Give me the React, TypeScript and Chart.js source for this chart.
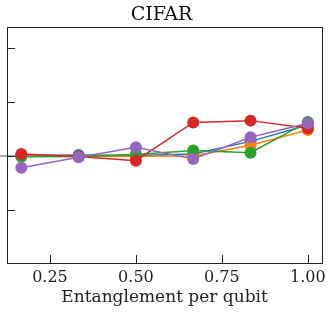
import React, { useEffect, useRef } from "react";
import { Chart, registerables } from "chart.js";

Chart.register(...registerables);

const xValues = [1 / 6, 2 / 6, 3 / 6, 4 / 6, 5 / 6, 1];
const seriesNames = ["s1", "s2", "s3", "s4", "s5"];
const seriesColors = ["#1f77b4", "#ff7f0e", "#2ca02c", "#d62728", "#9467bd"];
const blueValues = [0.01, 0.019, 0.01, 0.037, 0.27, 0.574];
const orangeValues = [0.0, -0.01, -0.005, 0.0, 0.2, 0.48];
const greenValues = [-0.013, -0.01, 0.028, 0.1, 0.061, 0.63];
const redValues = [0.037, -0.01, -0.087, 0.62, 0.654, 0.513];
const purpleValues = [-0.217, -0.024, 0.161, -0.056, 0.346, 0.606];
const allValues = [blueValues, orangeValues, greenValues, redValues, purpleValues];
const baselineX = [0, 1 / 6];
const baselineY = [0, 0];

const frameAndTicks = {
  id: "frameAndTicks",
  afterDraw(chart: any) {
    const { ctx, chartArea } = chart;
    const xs = chart.scales.x;
    const ys = chart.scales.y;
    ctx.save();
    ctx.strokeStyle = "#222";
    ctx.lineWidth = 1;
    ctx.strokeRect(
      Math.round(chartArea.left) + 0.5,
      Math.round(chartArea.top) + 0.5,
      Math.round(chartArea.right - chartArea.left),
      Math.round(chartArea.bottom - chartArea.top)
    );
    const len = 8;
    ctx.beginPath();
    xs.ticks.forEach((t: any) => {
      const px = Math.round(xs.getPixelForValue(t.value)) + 0.5;
      ctx.moveTo(px, chartArea.bottom);
      ctx.lineTo(px, chartArea.bottom - len);
    });
    ys.ticks.forEach((t: any) => {
      const py = Math.round(ys.getPixelForValue(t.value)) + 0.5;
      ctx.moveTo(chartArea.left, py);
      ctx.lineTo(chartArea.left + len, py);
    });
    ctx.stroke();
    ctx.restore();
  },
};

export default function App() {
  const ref = useRef<HTMLCanvasElement>(null);
  useEffect(() => {
    document.body.style.margin = "0";
    const datasets: any[] = allValues.map((vals, i) => ({
      label: seriesNames[i],
      data: xValues.map((x, j) => ({ x, y: vals[j] })),
      borderColor: seriesColors[i],
      backgroundColor: seriesColors[i],
      borderWidth: 1.5,
      pointRadius: 6,
      pointBorderWidth: 0,
      pointHoverRadius: 6,
      order: 5 - i,
    }));
    datasets.push({
      label: "base",
      data: baselineX.map((x, j) => ({ x, y: baselineY[j] })),
      borderColor: "#8c8c8c",
      borderWidth: 1.5,
      pointRadius: 0,
      clip: false,
      order: 10,
    });
    const chart = new Chart(ref.current!, {
      type: "line",
      data: { datasets },
      plugins: [frameAndTicks],
      options: {
        animation: false,
        responsive: false,
        maintainAspectRatio: false,
        layout: { padding: { left: 0, right: 8, top: 0, bottom: 0 } },
        plugins: {
          legend: { display: false },
          tooltip: { enabled: false },
          title: {
            display: true,
            text: "CIFAR",
            color: "#111",
            font: { family: "DejaVu Serif", size: 19, weight: "normal" },
            padding: { top: 4, bottom: 0 },
          },
        },
        scales: {
          x: {
            type: "linear",
            min: 0.125,
            max: 1.0417,
            grid: { display: false, drawTicks: false },
            border: { display: false },
            ticks: {
              stepSize: 0.25,
              includeBounds: false,
              color: "#222",
              padding: 5,
              font: { family: "DejaVu Serif", size: 16 },
              callback: (v: any) => Number(v).toFixed(2),
              maxRotation: 0,
            },
            title: {
              display: true,
              text: "Entanglement per qubit",
              color: "#222",
              font: { family: "DejaVu Serif", size: 17 },
              padding: { top: 0, bottom: 8 },
            },
            afterFit: (s: any) => {
              s.height = 53;
            },
          },
          y: {
            type: "linear",
            min: -1.98,
            max: 2.39,
            grid: { display: false, drawTicks: false },
            border: { display: false },
            ticks: { display: false, stepSize: 1, includeBounds: false },
            afterFit: (s: any) => {
              s.width = 7;
            },
          },
        },
      },
    });
    return () => chart.destroy();
  }, []);
  return <canvas ref={ref} width={331} height={316} style={{ display: "block" }} />;
}
